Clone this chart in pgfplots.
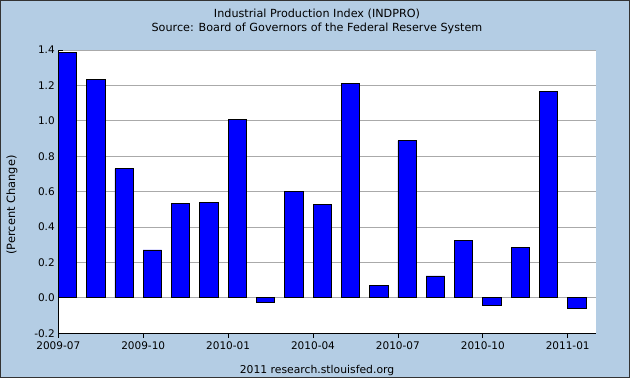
\documentclass[border=0pt]{standalone}
\usepackage{fontspec}
\setmainfont{DejaVu Sans}
\usepackage{pgfplots}
\pgfplotsset{compat=1.18}
\definecolor{fredbg}{RGB}{180,205,228}
\definecolor{fredgrid}{RGB}{170,170,170}
\definecolor{fredblue}{RGB}{0,0,255}
\begin{document}
\begin{tikzpicture}[x=1pt,y=1pt]
\useasboundingbox (0,0) rectangle (630,378);
\fill[fredbg] (0,0) rectangle (630,378);
\draw[black!80,line width=1pt] (0.5,0.5) rectangle (629.5,377.5);
\begin{axis}[
  at={(58.3pt,44.7pt)}, anchor=south west,
  scale only axis, width=537.7pt, height=283.3pt,
  xmin=0, xmax=19, ymin=-0.2, ymax=1.4,
  axis background/.style={fill=white},
  axis lines*=left,
  axis line style={-, line width=0.8pt, black},
  tick align=inside,
  major tick length=4.5pt,
  tick style={black, line width=0.8pt},
  xtick={0,3,6,9,12,15,18},
  xticklabels={2009-07,2009-10,2010-01,2010-04,2010-07,2010-10,2011-01},
  ytick={-0.2,0,0.2,0.4,0.6,0.8,1.0,1.2,1.4},
  yticklabel style={/pgf/number format/.cd, fixed, fixed zerofill, precision=1, assume math mode=true},
  xticklabel style={/pgf/number format/assume math mode=true},
  ymajorgrids,
  major grid style={fredgrid, line width=0.8pt},
  tick label style={font=\fontsize{10.5}{12}\selectfont},
  ybar, bar width=0.65, bar shift=0pt,
  clip=false,
]
\addplot[fill=fredblue, draw=black, line width=0.8pt] coordinates {
(0.325,1.385) (1.325,1.233) (2.325,0.729) (3.325,0.271) (4.325,0.531)
(5.325,0.537) (6.325,1.006) (7.325,-0.023) (8.325,0.601) (9.325,0.526)
(10.325,1.210) (11.325,0.068) (12.325,0.888) (13.325,0.124) (14.325,0.322)
(15.325,-0.040) (16.325,0.285) (17.325,1.165) (18.325,-0.057)
};
\end{axis}
\node[font=\fontsize{11.2}{14}\selectfont, align=center] at (317,378-21.5)
  {Industrial Production Index (INDPRO)\\Source: Board of Governors of the Federal Reserve System};
\node[font=\fontsize{11.4}{14}\selectfont, rotate=90] at (12,378-205) {(Percent Change)};
\node[font=\fontsize{10.8}{13}\selectfont] at (317,378-370.5) {2011 research.stlouisfed.org};
\end{tikzpicture}
\end{document}
